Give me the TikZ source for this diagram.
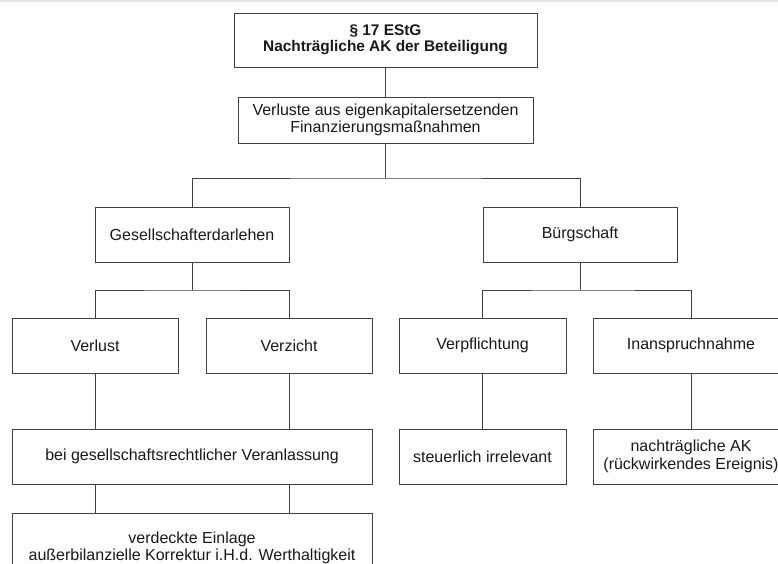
\documentclass[tikz,border=0pt]{standalone}
\usepackage{fontspec}
\setmainfont{Liberation Sans}
\begin{document}
\begin{tikzpicture}[x=1pt,y=-1pt,
  box/.style={draw=boxgray, line width=1pt, rectangle, inner sep=0pt,
    align=center, font=\fontsize{16}{17.5}\selectfont, text=black!90},
  link/.style={draw=boxgray, line width=1pt}]
\definecolor{boxgray}{HTML}{404040}
\definecolor{bandgray}{HTML}{E4E0DA}
\useasboundingbox (0,0) rectangle (778,563);
\clip (0,0) rectangle (778,563);
\fill[white] (0,0) rectangle (778,563);
\fill[bandgray] (0,0) rectangle (778,1.6);

% tree of boxes
\node[box, minimum width=303, minimum height=54, font=\fontsize{15.4}{16.5}\selectfont\bfseries]
  (top) at (385.5,40) {§ 17 EStG\\Nachträgliche AK der Beteiligung};
\node[box, minimum width=295, minimum height=46]
  (fin) at (385.5,120) {Verluste aus eigenkapitalersetzenden\\Finanzierungsmaßnahmen};
\node[box, minimum width=194, minimum height=55] (gd) at (192,234.5) {Gesellschafterdarlehen};
\node[box, minimum width=194, minimum height=55] (bg) at (580,234.5) {Bürgschaft};
\node[box, minimum width=166, minimum height=55] (verlust) at (95,345.5) {Verlust};
\node[box, minimum width=166, minimum height=55] (verzicht) at (289,345.5) {Verzicht};
\node[box, minimum width=167, minimum height=55] (verpf) at (482.5,345.5) {Verpflichtung};
\node[box, minimum width=196, minimum height=55] (inan) at (691,345.5) {Inanspruchnahme};
\node[box, minimum width=360, minimum height=55] (bei) at (192,456.5) {bei gesellschaftsrechtlicher Veranlassung};
\node[box, minimum width=167, minimum height=55] (steuer) at (482.5,456.5) {steuerlich irrelevant};
\node[box, minimum width=196, minimum height=55] (nachtr) at (691,456.5) {nachträgliche AK\\(rückwirkendes Ereignis)};
\node[box, minimum width=360, minimum height=70] (vE) at (192,548) {verdeckte Einlage\\außerbilanzielle Korrektur i.H.d. Werthaltigkeit};

% connectors
\coordinate (j1) at (385.5,178);
\coordinate (j2) at (192,290);
\coordinate (j3) at (580,290);
\draw[link] (top) -- (fin);
\draw[link] (fin) -- (j1);
\draw[link] (gd.north) |- (j1) -| (bg.north);
\draw[link] (gd) -- (j2);
\draw[link] (verlust.north) |- (j2) -| (verzicht.north);
\draw[link] (bg) -- (j3);
\draw[link] (verpf.north) |- (j3) -| (inan.north);
\draw[link] (verlust.south) -- (verlust.south |- bei.north);
\draw[link] (verzicht.south) -- (verzicht.south |- bei.north);
\draw[link] (verlust.south |- bei.south) -- (verlust.south |- vE.north);
\draw[link] (verzicht.south |- bei.south) -- (verzicht.south |- vE.north);
\draw[link] (verpf) -- (steuer);
\draw[link] (inan) -- (nachtr);
\end{tikzpicture}
\end{document}
